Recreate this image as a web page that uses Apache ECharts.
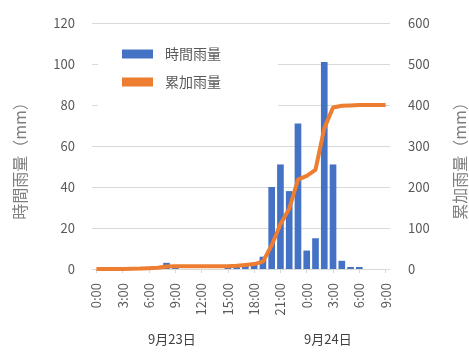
<!DOCTYPE html>
<html>
<head>
<meta charset="utf-8">
<script src="https://cdn.jsdelivr.net/npm/echarts@6/dist/echarts.min.js"></script>
<style>
  html, body { margin: 0; padding: 0; background: #fff; }
  #chart { width: 469px; height: 358px; }
</style>
</head>
<body>
<div id="chart"></div>
<script>
// 9/23 0:00 ～ 9/24 9:00 毎時
const hours = [
  '0:00', '1:00', '2:00', '3:00', '4:00', '5:00', '6:00', '7:00', '8:00', '9:00', '10:00', '11:00',
  '12:00', '13:00', '14:00', '15:00', '16:00', '17:00', '18:00', '19:00', '20:00', '21:00', '22:00', '23:00',
  '0:00', '1:00', '2:00', '3:00', '4:00', '5:00', '6:00', '7:00', '8:00', '9:00'
];
// 時間雨量 (mm)
const hourlyRain = [
  0, 0, 0, 0, 0.5, 0.5, 1, 1, 3, 0.5, 0, 0,
  0, 0, 0, 0.5, 1, 2, 2, 6, 40, 51, 38, 71,
  9, 15, 101, 51, 4, 1, 1, 0, 0, 0
];
// 累加雨量 (mm)
const totalRain = [
  0, 0, 0, 0, 0.5, 1, 2, 3, 6, 6.5, 6.5, 6.5,
  6.5, 6.5, 6.5, 7, 8, 10, 12, 18, 58, 109, 147, 218,
  227, 242, 343, 394, 398, 399, 400, 400, 400, 400
];
const dayLabels = ['9月23日', '9月24日'];

const chart = echarts.init(document.getElementById('chart'));
const font = '"Noto Sans CJK JP", "Noto Sans", sans-serif';
const gray = '#595959';

const option = {
  animation: false,
  textStyle: { fontFamily: font },
  grid: { left: 92, right: 79, top: 23, bottom: 89, containLabel: false, outerBoundsMode: 'none' },
  legend: {
    orient: 'vertical',
    left: 98,
    top: 38,
    padding: [9, 57, 24, 24],
    backgroundColor: '#fff',
    itemWidth: 31,
    itemHeight: 9,
    itemGap: 14,
    textStyle: { fontSize: 14, color: gray, fontFamily: font, padding: [0, 0, 0, 7] },
    data: [
      { name: '時間雨量', icon: 'rect' },
      { name: '累加雨量', icon: 'rect', itemStyle: { color: '#ED7D31' } }
    ]
  },
  xAxis: {
    type: 'category',
    data: hours,
    boundaryGap: true,
    axisLine: { lineStyle: { color: '#d9d9d9' } },
    axisTick: { show: true, interval: 2, alignWithLabel: true, length: 4, lineStyle: { color: '#d9d9d9' } },
    axisLabel: {
      interval: 2,
      rotate: 90,
      fontSize: 13,
      color: gray,
      margin: 14
    }
  },
  yAxis: [
    {
      type: 'value',
      min: 0,
      max: 120,
      interval: 20,
      name: '時間雨量（mm）',
      nameLocation: 'middle',
      nameRotate: 90,
      nameGap: 64,
      nameTextStyle: { fontSize: 16, color: '#7f7f7f', padding: [0, 22, 0, 0] },
      axisLine: { show: false },
      axisTick: { show: false },
      axisLabel: { fontSize: 13, color: gray, margin: 17 },
      splitLine: { lineStyle: { color: '#d9d9d9', width: 1 } }
    },
    {
      type: 'value',
      min: 0,
      max: 600,
      interval: 100,
      name: '累加雨量（mm）',
      nameLocation: 'middle',
      nameRotate: 90,
      nameGap: 62,
      nameTextStyle: { fontSize: 16, color: '#7f7f7f', padding: [0, 22, 0, 0] },
      axisLine: { show: false },
      axisTick: { show: false },
      axisLabel: { fontSize: 13, color: gray, margin: 18 },
      splitLine: { show: false }
    }
  ],
  series: [
    {
      name: '時間雨量',
      type: 'bar',
      data: hourlyRain,
      yAxisIndex: 0,
      barCategoryGap: '24%',
      itemStyle: { color: '#4472C4' }
    },
    {
      name: '累加雨量',
      type: 'line',
      data: totalRain,
      yAxisIndex: 1,
      symbol: 'none',
      lineStyle: { color: '#ED7D31', width: 4 },
      itemStyle: { color: '#ED7D31' },
      z: 3
    }
  ],
  graphic: [
    { type: 'text', left: 148, top: 333, style: { text: dayLabels[0], fontSize: 13, fill: '#404040', fontFamily: font } },
    { type: 'text', left: 304, top: 333, style: { text: dayLabels[1], fontSize: 13, fill: '#404040', fontFamily: font } }
  ]
};

chart.setOption(option);
</script>
</body>
</html>
